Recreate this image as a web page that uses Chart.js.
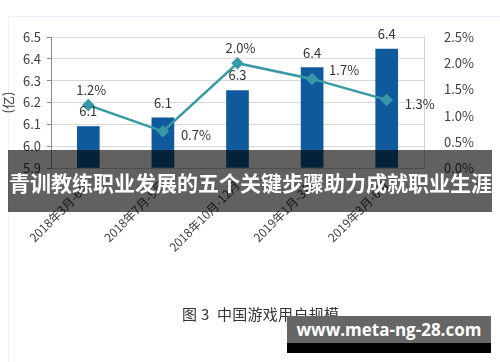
<!DOCTYPE html>
<html>
<head>
<meta charset="utf-8">
<script src="https://cdn.jsdelivr.net/npm/chart.js@4"></script>
<style>
  html, body { margin: 0; padding: 0; background: #fff; }
  #wrap { position: relative; width: 500px; height: 362px; overflow: hidden; }
  #chart-users { position: absolute; left: 0; top: 0; }
  .frame { position: absolute; left: 8px; top: 16px; width: 492px; height: 346px;
           border-top: 1px solid #e9eef6; border-left: 1px solid #f0f0f0; }
  .caption { position: absolute; left: 182px; top: 303px; font: 15px "Noto Sans CJK SC", sans-serif;
             color: #333; white-space: pre; letter-spacing: 0.3px; }
  .band { position: absolute; left: 8px; top: 150px; width: 484px; height: 62px;
          background: rgba(0, 0, 0, 0.62); color: #fff; font: bold 21px "Noto Sans CJK SC", sans-serif;
          line-height: 64px; text-indent: 1px; white-space: nowrap; }
  .mark { position: absolute; left: 287px; top: 316px; width: 204px; height: 27px;
          background: #666; color: #fff; font: bold 17px "Open Sans", sans-serif;
          line-height: 28px; text-align: center; border-bottom: 10px solid #000; white-space: nowrap; }
</style>
</head>
<body>
<div id="wrap">
  <div class="frame"></div>
  <canvas id="chart-users" width="500" height="362"></canvas>
  <div class="caption">图 3  中国游戏用户规模</div>
  <div class="band">青训教练职业发展的五个关键步骤助力成就职业生涯</div>
  <div class="mark">www.meta-ng-28.com</div>
</div>
<script>
// 数据
const periods = ['2018年3月-6月', '2018年7月-9月', '2018年10月-12月', '2019年1月-3月', '2019年3月-6月'];
const users = [6.09, 6.13, 6.255, 6.36, 6.445];      // 用户规模 (亿)
const growth = [1.2, 0.7, 2.0, 1.7, 1.3];             // 环比增长 (%)
const leftTicks = [5.9, 6.0, 6.1, 6.2, 6.3, 6.4, 6.5];
const rightTicks = [0, 0.5, 1.0, 1.5, 2.0, 2.5];

// 标签位置 (折线)
const growthLabelPos = ['top', 'right', 'top', 'topright', 'right'];

const FONT = '"Noto Sans CJK SC", "Noto Sans", sans-serif';

// 数值标签
const valueLabels = {
  id: 'valueLabels',
  afterDatasetsDraw(chart) {
    const ctx = chart.ctx;
    ctx.save();
    ctx.font = '13px ' + FONT;
    ctx.fillStyle = '#333';
    ctx.textAlign = 'center';
    ctx.textBaseline = 'middle';
    chart.getDatasetMeta(1).data.forEach((bar, i) => {
      ctx.fillText(users[i].toFixed(1), bar.x, bar.y - 15);
    });
    chart.getDatasetMeta(0).data.forEach((pt, i) => {
      const txt = growth[i].toFixed(1) + '%';
      const pos = growthLabelPos[i];
      if (pos == 'top') {
        ctx.fillText(txt, pt.x + 3, pt.y - 15);
      } else if (pos == 'topright') {
        ctx.fillText(txt, pt.x + 32, pt.y - 9);
      } else {
        ctx.fillText(txt, pt.x + 33, pt.y + 4);
      }
    });
    ctx.restore();
  }
};

const ctx = document.getElementById('chart-users').getContext('2d');
new Chart(ctx, {
  data: {
    labels: periods,
    datasets: [
      {
        type: 'line',
        data: growth,
        yAxisID: 'y1',
        order: 0,
        borderColor: '#3798a6',
        backgroundColor: '#3798a6',
        borderWidth: 2.5,
        pointStyle: 'rectRot',
        pointRadius: 4.5,
        pointBackgroundColor: '#3798a6',
        pointBorderColor: '#3798a6',
        tension: 0,
      },
      {
        type: 'bar',
        data: users,
        yAxisID: 'y',
        order: 1,
        backgroundColor: '#0f5a9c',
        barThickness: 22,
        base: 5.9,
      },
    ],
  },
  options: {
    responsive: false,
    animation: false,
    layout: { padding: { top: 37, left: 0, right: 0, bottom: 0 } },
    plugins: {
      legend: { display: false },
      tooltip: { enabled: false },
    },
    scales: {
      x: {
        grid: { display: false },
        border: { color: '#c8c8c8' },
        ticks: {
          color: '#404040',
          font: { family: FONT, size: 12 },
          minRotation: 45,
          maxRotation: 45,
          padding: 2,
        },
        afterFit(scale) { scale.height = 194; },
      },
      y: {
        position: 'left',
        min: 5.9,
        max: 6.5,
        afterBuildTicks(scale) { scale.ticks = leftTicks.map(v => ({ value: v })); },
        grid: { color: '#d9d9d9', tickColor: '#8a8a8a', tickLength: 4 },
        border: { color: '#8a8a8a' },
        ticks: {
          color: '#404040',
          font: { family: FONT, size: 13 },
          padding: 6,
          callback: v => Number(v).toFixed(1),
        },
        title: {
          display: true,
          text: '(亿)',
          color: '#404040',
          font: { family: FONT, size: 13 },
          padding: { top: 0, bottom: 0 },
        },
        afterFit(scale) { scale.width = 51; },
      },
      y1: {
        position: 'right',
        min: 0,
        max: 2.5,
        afterBuildTicks(scale) { scale.ticks = rightTicks.map(v => ({ value: v })); },
        grid: { display: false },
        border: { color: '#d0d0d0' },
        ticks: {
          color: '#404040',
          font: { family: FONT, size: 13 },
          padding: 12,
          callback: v => Number(v).toFixed(1) + '%',
        },
        afterFit(scale) { scale.width = 76; },
      },
    },
  },
  plugins: [valueLabels],
});
</script>
</body>
</html>
